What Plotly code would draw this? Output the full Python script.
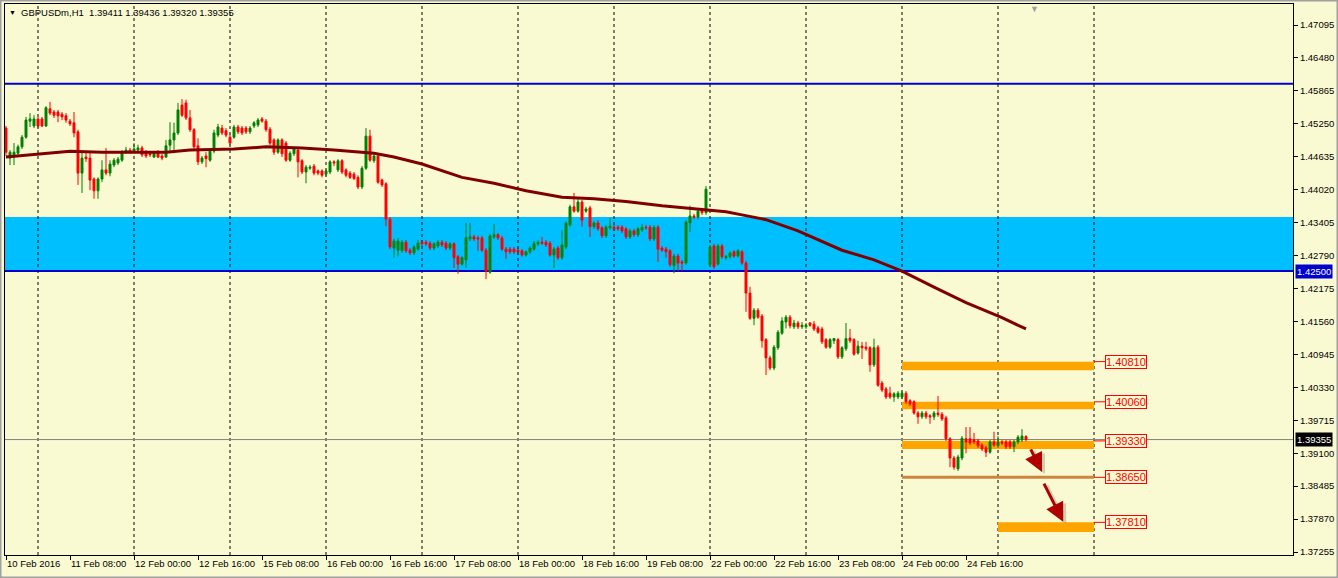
import plotly.graph_objects as go

# ---------------- data ----------------
opens = [1.4517, 1.4461, 1.4463, 1.4470, 1.4482, 1.4500, 1.4530, 1.4521, 1.4534, 1.4534,
         1.4521, 1.4553, 1.4547, 1.4547, 1.4543, 1.4540, 1.4530, 1.4527, 1.4510, 1.4433,
         1.4463, 1.4461, 1.4422, 1.4400, 1.4422, 1.4439, 1.4433, 1.4448, 1.4452, 1.4457,
         1.4472, 1.4476, 1.4474, 1.4476, 1.4480, 1.4472, 1.4470, 1.4463, 1.4472, 1.4465,
         1.4463, 1.4485, 1.4495, 1.4508, 1.4560, 1.4564, 1.4536, 1.4514, 1.4484, 1.4454,
         1.4465, 1.4457, 1.4474, 1.4504, 1.4517, 1.4512, 1.4500, 1.4500, 1.4519, 1.4517,
         1.4517, 1.4510, 1.4521, 1.4523, 1.4534, 1.4530, 1.4515, 1.4495, 1.4472, 1.4495,
         1.4489, 1.4457, 1.4469, 1.4476, 1.4456, 1.4435, 1.4442, 1.4446, 1.4437, 1.4437,
         1.4431, 1.4435, 1.4454, 1.4439, 1.4456, 1.4439, 1.4433, 1.4431, 1.4425, 1.4407,
         1.4442, 1.4502, 1.4456, 1.4465, 1.4420, 1.4413, 1.4347, 1.4293, 1.4289, 1.4288,
         1.4304, 1.4289, 1.4284, 1.4291, 1.4304, 1.4304, 1.4302, 1.4293, 1.4297, 1.4304,
         1.4302, 1.4293, 1.4301, 1.4277, 1.4263, 1.4271, 1.4310, 1.4314, 1.4312, 1.4312,
         1.4289, 1.4248, 1.4314, 1.4318, 1.4312, 1.4291, 1.4291, 1.4291, 1.4289, 1.4288,
         1.4280, 1.4286, 1.4291, 1.4301, 1.4304, 1.4304, 1.4302, 1.4280, 1.4293, 1.4275,
         1.4295, 1.4336, 1.4370, 1.4362, 1.4379, 1.4362, 1.4368, 1.4333, 1.4340, 1.4331,
         1.4316, 1.4331, 1.4332, 1.4332, 1.4332, 1.4329, 1.4314, 1.4325, 1.4318, 1.4327,
         1.4332, 1.4332, 1.4310, 1.4332, 1.4293, 1.4291, 1.4288, 1.4260, 1.4278, 1.4267,
         1.4265, 1.4340, 1.4353, 1.4351, 1.4364, 1.4359, 1.4262, 1.4297, 1.4263, 1.4297,
         1.4275, 1.4277, 1.4286, 1.4278, 1.4286, 1.4265, 1.4209, 1.4162, 1.4177, 1.4166,
         1.4122, 1.4088, 1.4069, 1.4107, 1.4134, 1.4155, 1.4164, 1.4146, 1.4153, 1.4146,
         1.4146, 1.4153, 1.4151, 1.4144, 1.4142, 1.4122, 1.4108, 1.4120, 1.4122, 1.4090,
         1.4105, 1.4125, 1.4122, 1.4097, 1.4110, 1.4108, 1.4107, 1.4075, 1.4108, 1.4041,
         1.4030, 1.4022, 1.4015, 1.4015, 1.4015, 1.4022, 1.4008, 1.4006, 1.3985, 1.3978,
         1.3985, 1.3980, 1.3978, 1.3985, 1.3983, 1.3976, 1.3937, 1.3901, 1.3881, 1.3901,
         1.3937, 1.3937, 1.3935, 1.3933, 1.3925, 1.3920, 1.3912, 1.3931, 1.3924, 1.3931,
         1.3931, 1.3931, 1.3922, 1.3931, 1.3935, 1.39411]

highs = [1.4521, 1.4476, 1.4489, 1.4486, 1.4504, 1.4538, 1.4545, 1.4541, 1.4538, 1.4538,
         1.4558, 1.4566, 1.4551, 1.4551, 1.4547, 1.4545, 1.4534, 1.4547, 1.4514, 1.4472,
         1.4472, 1.4472, 1.4425, 1.4425, 1.4457, 1.4480, 1.4457, 1.4461, 1.4463, 1.4476,
         1.4482, 1.4480, 1.4489, 1.4486, 1.4484, 1.4476, 1.4474, 1.4474, 1.4476, 1.4469,
         1.4495, 1.4528, 1.4527, 1.4564, 1.4571, 1.4570, 1.4551, 1.4517, 1.4498, 1.4465,
         1.4472, 1.4478, 1.4514, 1.4525, 1.4523, 1.4517, 1.4506, 1.4523, 1.4523, 1.4521,
         1.4521, 1.4521, 1.4530, 1.4536, 1.4538, 1.4534, 1.4519, 1.4498, 1.4498, 1.4498,
         1.4493, 1.4474, 1.4482, 1.4480, 1.4459, 1.4448, 1.4448, 1.4450, 1.4440, 1.4440,
         1.4440, 1.4457, 1.4457, 1.4459, 1.4459, 1.4442, 1.4437, 1.4435, 1.4429, 1.4446,
         1.4517, 1.4514, 1.4469, 1.4469, 1.4423, 1.4416, 1.4351, 1.4310, 1.4312, 1.4308,
         1.4308, 1.4293, 1.4299, 1.4308, 1.4308, 1.4308, 1.4306, 1.4304, 1.4308, 1.4308,
         1.4306, 1.4304, 1.4304, 1.4280, 1.4278, 1.4340, 1.4340, 1.4318, 1.4316, 1.4316,
         1.4293, 1.4319, 1.4338, 1.4321, 1.4316, 1.4295, 1.4295, 1.4295, 1.4293, 1.4291,
         1.4289, 1.4297, 1.4306, 1.4308, 1.4314, 1.4308, 1.4306, 1.4295, 1.4297, 1.4327,
         1.4343, 1.4374, 1.4396, 1.4385, 1.4383, 1.4370, 1.4372, 1.4343, 1.4345, 1.4334,
         1.4336, 1.4349, 1.4336, 1.4336, 1.4336, 1.4332, 1.4329, 1.4329, 1.4332, 1.4338,
         1.4336, 1.4336, 1.4336, 1.4336, 1.4297, 1.4295, 1.4291, 1.4282, 1.4282, 1.4271,
         1.4345, 1.4372, 1.4357, 1.4366, 1.4368, 1.4409, 1.4299, 1.4301, 1.4301, 1.4301,
         1.4280, 1.4288, 1.4289, 1.4291, 1.4289, 1.4269, 1.4221, 1.4181, 1.4181, 1.4170,
         1.4125, 1.4092, 1.4112, 1.4140, 1.4164, 1.4168, 1.4168, 1.4159, 1.4157, 1.4155,
         1.4153, 1.4155, 1.4157, 1.4148, 1.4146, 1.4125, 1.4125, 1.4125, 1.4125, 1.4110,
         1.4153, 1.4142, 1.4125, 1.4120, 1.4118, 1.4118, 1.4110, 1.4124, 1.4112, 1.4045,
         1.4034, 1.4034, 1.4024, 1.4026, 1.4026, 1.4026, 1.4011, 1.4009, 1.3989, 1.3989,
         1.3989, 1.3983, 1.3989, 1.4017, 1.3987, 1.3980, 1.3940, 1.3905, 1.3907, 1.3942,
         1.3959, 1.3959, 1.3948, 1.3937, 1.3929, 1.3924, 1.3935, 1.3950, 1.3942, 1.3935,
         1.3935, 1.3935, 1.3935, 1.3944, 1.3955, 1.39436]

lows = [1.4465, 1.4448, 1.4448, 1.4467, 1.4478, 1.4497, 1.4519, 1.4517, 1.4517, 1.4519,
        1.4519, 1.4541, 1.4536, 1.4528, 1.4532, 1.4527, 1.4521, 1.4500, 1.4411, 1.4396,
        1.4454, 1.4401, 1.4385, 1.4385, 1.4416, 1.4429, 1.4427, 1.4444, 1.4448, 1.4454,
        1.4469, 1.4470, 1.4470, 1.4472, 1.4463, 1.4461, 1.4463, 1.4461, 1.4461, 1.4457,
        1.4461, 1.4470, 1.4470, 1.4504, 1.4538, 1.4532, 1.4510, 1.4476, 1.4448, 1.4450,
        1.4444, 1.4454, 1.4470, 1.4500, 1.4504, 1.4500, 1.4485, 1.4497, 1.4506, 1.4504,
        1.4506, 1.4506, 1.4517, 1.4519, 1.4527, 1.4510, 1.4484, 1.4467, 1.4469, 1.4463,
        1.4454, 1.4454, 1.4465, 1.4425, 1.4431, 1.4414, 1.4439, 1.4429, 1.4429, 1.4425,
        1.4427, 1.4431, 1.4446, 1.4435, 1.4431, 1.4425, 1.4422, 1.4420, 1.4403, 1.4403,
        1.4439, 1.4454, 1.4452, 1.4413, 1.4407, 1.4334, 1.4291, 1.4275, 1.4278, 1.4284,
        1.4284, 1.4280, 1.4280, 1.4288, 1.4297, 1.4297, 1.4289, 1.4289, 1.4293, 1.4295,
        1.4289, 1.4289, 1.4256, 1.4245, 1.4260, 1.4256, 1.4306, 1.4306, 1.4288, 1.4286,
        1.4235, 1.4245, 1.4310, 1.4308, 1.4288, 1.4273, 1.4282, 1.4282, 1.4282, 1.4277,
        1.4277, 1.4282, 1.4288, 1.4297, 1.4299, 1.4295, 1.4277, 1.4256, 1.4271, 1.4271,
        1.4291, 1.4333, 1.4359, 1.4359, 1.4333, 1.4359, 1.4314, 1.4329, 1.4325, 1.4312,
        1.4312, 1.4327, 1.4325, 1.4325, 1.4321, 1.4310, 1.4310, 1.4314, 1.4314, 1.4323,
        1.4327, 1.4306, 1.4306, 1.4267, 1.4286, 1.4275, 1.4258, 1.4246, 1.4250, 1.4250,
        1.4262, 1.4323, 1.4347, 1.4347, 1.4355, 1.4355, 1.4258, 1.4254, 1.4260, 1.4273,
        1.4271, 1.4273, 1.4275, 1.4275, 1.4262, 1.4174, 1.4159, 1.4149, 1.4161, 1.4107,
        1.4056, 1.4065, 1.4065, 1.4103, 1.4131, 1.4143, 1.4143, 1.4142, 1.4142, 1.4142,
        1.4142, 1.4146, 1.4138, 1.4133, 1.4114, 1.4105, 1.4105, 1.4114, 1.4086, 1.4086,
        1.4101, 1.4116, 1.4092, 1.4094, 1.4086, 1.4101, 1.4062, 1.4071, 1.4034, 1.4024,
        1.4011, 1.4011, 1.4006, 1.4011, 1.4011, 1.4002, 1.3998, 1.3982, 1.3965, 1.3974,
        1.3974, 1.3965, 1.3972, 1.3978, 1.3970, 1.3933, 1.3884, 1.3879, 1.3877, 1.3897,
        1.3910, 1.3925, 1.3927, 1.3920, 1.3914, 1.3903, 1.3909, 1.3922, 1.3920, 1.3925,
        1.3918, 1.3918, 1.3912, 1.3927, 1.3931, 1.39320]

closes = [1.4472, 1.4472, 1.4472, 1.4482, 1.4500, 1.4532, 1.4534, 1.4534, 1.4521, 1.4521,
          1.4555, 1.4545, 1.4541, 1.4540, 1.4538, 1.4532, 1.4525, 1.4508, 1.4433, 1.4461,
          1.4460, 1.4420, 1.4400, 1.4422, 1.4439, 1.4433, 1.4450, 1.4457, 1.4459, 1.4472,
          1.4476, 1.4472, 1.4478, 1.4480, 1.4467, 1.4465, 1.4467, 1.4470, 1.4463, 1.4461,
          1.4484, 1.4495, 1.4508, 1.4551, 1.4541, 1.4536, 1.4514, 1.4482, 1.4454, 1.4461,
          1.4460, 1.4474, 1.4508, 1.4519, 1.4508, 1.4504, 1.4489, 1.4519, 1.4510, 1.4508,
          1.4510, 1.4517, 1.4527, 1.4532, 1.4530, 1.4514, 1.4489, 1.4472, 1.4495, 1.4469,
          1.4457, 1.4470, 1.4478, 1.4454, 1.4435, 1.4444, 1.4444, 1.4433, 1.4433, 1.4429,
          1.4437, 1.4454, 1.4452, 1.4456, 1.4435, 1.4429, 1.4425, 1.4423, 1.4407, 1.4442,
          1.4502, 1.4457, 1.4465, 1.4416, 1.4411, 1.4347, 1.4295, 1.4306, 1.4306, 1.4304,
          1.4288, 1.4284, 1.4295, 1.4302, 1.4301, 1.4301, 1.4293, 1.4301, 1.4304, 1.4299,
          1.4293, 1.4301, 1.4275, 1.4263, 1.4275, 1.4312, 1.4314, 1.4310, 1.4310, 1.4289,
          1.4250, 1.4316, 1.4318, 1.4312, 1.4291, 1.4286, 1.4286, 1.4286, 1.4286, 1.4280,
          1.4286, 1.4293, 1.4302, 1.4304, 1.4302, 1.4299, 1.4280, 1.4291, 1.4275, 1.4299,
          1.4340, 1.4370, 1.4362, 1.4379, 1.4345, 1.4366, 1.4333, 1.4340, 1.4329, 1.4316,
          1.4332, 1.4334, 1.4329, 1.4329, 1.4325, 1.4314, 1.4325, 1.4318, 1.4329, 1.4332,
          1.4331, 1.4310, 1.4332, 1.4291, 1.4289, 1.4286, 1.4262, 1.4278, 1.4265, 1.4265,
          1.4342, 1.4353, 1.4351, 1.4362, 1.4359, 1.4403, 1.4295, 1.4258, 1.4297, 1.4277,
          1.4277, 1.4284, 1.4278, 1.4288, 1.4265, 1.4209, 1.4162, 1.4177, 1.4164, 1.4120,
          1.4088, 1.4069, 1.4108, 1.4136, 1.4157, 1.4164, 1.4148, 1.4153, 1.4146, 1.4149,
          1.4149, 1.4149, 1.4142, 1.4136, 1.4118, 1.4108, 1.4122, 1.4124, 1.4090, 1.4107,
          1.4124, 1.4120, 1.4095, 1.4110, 1.4107, 1.4105, 1.4075, 1.4107, 1.4037, 1.4028,
          1.4015, 1.4015, 1.4021, 1.4022, 1.4022, 1.4006, 1.4002, 1.3985, 1.3978, 1.3985,
          1.3978, 1.3978, 1.3985, 1.3982, 1.3974, 1.3937, 1.3901, 1.3884, 1.3903, 1.3938,
          1.3931, 1.3929, 1.3931, 1.3924, 1.3918, 1.3912, 1.3931, 1.3925, 1.3931, 1.3929,
          1.3922, 1.3922, 1.3931, 1.3940, 1.3942, 1.39355]

bar_index = list(range(len(closes)))

# moving average read at sampled bars
ma_idx = [0, 9, 16, 24, 32, 40, 46, 57, 65, 74, 82, 89, 92, 97, 104, 114, 122, 130,
          139, 147, 155, 164, 172, 180, 184, 190, 198, 209, 217, 224, 232, 240, 249, 255]
ma_val = [1.4463, 1.4469, 1.4474, 1.4472, 1.4472, 1.4472, 1.4476, 1.4478, 1.4482, 1.4480,
          1.4476, 1.4472, 1.4470, 1.4463, 1.4450, 1.4425, 1.4414, 1.4400, 1.4388, 1.4385,
          1.4380, 1.4372, 1.4366, 1.4361, 1.4355, 1.4346, 1.4325, 1.4289, 1.4271, 1.4250,
          1.4220, 1.4191, 1.4163, 1.4142]

time_tick_idx = [0, 16, 32, 48, 64, 80, 96, 112, 128, 144, 160, 176, 192, 208, 224, 240]
time_tick_labels = ["10 Feb 2016", "11 Feb 08:00", "12 Feb 00:00", "12 Feb 16:00",
                    "15 Feb 08:00", "16 Feb 00:00", "16 Feb 16:00", "17 Feb 08:00",
                    "18 Feb 00:00", "18 Feb 16:00", "19 Feb 08:00", "22 Feb 00:00",
                    "22 Feb 16:00", "23 Feb 08:00", "24 Feb 00:00", "24 Feb 16:00"]
day_start_idx = [8, 32, 56, 80, 104, 128, 152, 176, 200, 224, 248, 272]

price_ticks = [1.47095, 1.46480, 1.45865, 1.45250, 1.44635, 1.44020, 1.43405, 1.42790,
               1.42175, 1.41560, 1.40945, 1.40330, 1.39715, 1.39100, 1.38485, 1.37870, 1.37255]

resistance_line = 1.46000
support_line = 1.42500
zone_band = [1.42500, 1.43510]
bid_price = 1.39355

target_levels = [1.40810, 1.40060, 1.39330, 1.38650, 1.37810]
zone_top = [1.40810, 1.40060, 1.39330, 1.37810]
zone_bottom = [1.40650, 1.39920, 1.39180, 1.37630]
zone_start = [224, 224, 224, 248]
zone_end = [272, 272, 272, 272]
line_level = 1.38650
line_span = [224, 272]

arrow_tails = [(256.0, 1.3920), (259.3, 1.3856)]
arrow_heads = [(259.0, 1.3875), (264.3, 1.3782)]

title_text = "GBPUSDm,H1\u00a0 1.39411 1.39436 1.39320 1.39355"

# ---------------- styling ----------------
BG = "#FAFAD2"
FONT = "Liberation Sans, Arial, sans-serif"
X_RANGE = [-0.25, 321.75]
Y_RANGE = [1.37200, 1.47487]

fig = go.Figure()

fig.add_trace(go.Candlestick(
    x=bar_index, open=opens, high=highs, low=lows, close=closes,
    increasing=dict(line=dict(color="#008000", width=1), fillcolor="#008000"),
    decreasing=dict(line=dict(color="#FF0000", width=1), fillcolor="#FF0000"),
    whiskerwidth=0, showlegend=False, hoverinfo="skip"))

fig.add_trace(go.Scatter(
    x=ma_idx, y=ma_val, mode="lines", line=dict(color="#800000", width=3),
    showlegend=False, hoverinfo="skip"))

shapes = []
shapes.append(dict(type="rect", xref="paper", yref="y", x0=0, x1=1,
                   y0=zone_band[0], y1=zone_band[1], fillcolor="#00BFFF",
                   line=dict(width=0), layer="below"))
for d in day_start_idx:
    shapes.append(dict(type="line", xref="x", yref="paper", x0=d, x1=d, y0=0, y1=1,
                       line=dict(color="black", width=1, dash="3px,3px"), layer="below"))
shapes.append(dict(type="line", xref="paper", yref="y", x0=0, x1=1,
                   y0=resistance_line, y1=resistance_line,
                   line=dict(color="#0000CD", width=2), layer="below"))
shapes.append(dict(type="line", xref="paper", yref="y", x0=0, x1=1,
                   y0=support_line, y1=support_line,
                   line=dict(color="#0000CD", width=2), layer="below"))
shapes.append(dict(type="line", xref="paper", yref="y", x0=0, x1=1,
                   y0=bid_price, y1=bid_price,
                   line=dict(color="#808080", width=1), layer="below"))
for t, b, s, e in zip(zone_top, zone_bottom, zone_start, zone_end):
    shapes.append(dict(type="rect", xref="x", yref="y", x0=s, x1=e, y0=b, y1=t,
                       fillcolor="#FFA500", line=dict(width=0), layer="below"))
shapes.append(dict(type="line", xref="x", yref="y", x0=line_span[0], x1=line_span[1],
                   y0=line_level, y1=line_level,
                   line=dict(color="#CD853F", width=3), layer="below"))
for lv in target_levels:
    shapes.append(dict(type="line", xref="x", yref="y", x0=272, x1=274.8, y0=lv, y1=lv,
                       line=dict(color="#FF0000", width=1)))
shapes.append(dict(type="rect", xref="paper", yref="paper",
                   x0=-5 / 1288, x1=1 + 45 / 1288, y0=-23 / 551, y1=1 + 4 / 551,
                   line=dict(color="#A0A0A0", width=3), fillcolor="rgba(0,0,0,0)"))

annotations = []
for lv in target_levels:
    annotations.append(dict(x=274.8, y=lv, xref="x", yref="y", xanchor="left",
                            yanchor="middle", text=f"{lv:.5f}", showarrow=False,
                            font=dict(family=FONT, size=11, color="#FF0000"),
                            bgcolor=BG, bordercolor="#FF0000", borderwidth=1, borderpad=0))
annotations.append(dict(x=1, y=support_line, xref="paper", yref="y", xanchor="left",
                        yanchor="middle", xshift=2, text=f"{support_line:.5f}",
                        showarrow=False, bgcolor="#0000CD",
                        font=dict(family=FONT, size=9.5, color="white"), borderpad=1))
annotations.append(dict(x=1, y=bid_price, xref="paper", yref="y", xanchor="left",
                        yanchor="middle", xshift=2, text=f"{bid_price:.5f}",
                        showarrow=False, bgcolor="black",
                        font=dict(family=FONT, size=9.5, color="white"), borderpad=1))
for (tx, ty), (hx, hy) in zip(arrow_tails, arrow_heads):
    annotations.append(dict(x=hx, y=hy, ax=tx, ay=ty, xref="x", yref="y",
                            axref="x", ayref="y", showarrow=True, text="",
                            arrowhead=2, arrowsize=1.25, arrowwidth=3,
                            arrowcolor="rgba(80,80,80,0.25)", xshift=3, yshift=-2))
    annotations.append(dict(x=hx, y=hy, ax=tx, ay=ty, xref="x", yref="y",
                            axref="x", ayref="y", showarrow=True, text="",
                            arrowhead=2, arrowsize=1.25, arrowwidth=3,
                            arrowcolor="#B00000"))
annotations.append(dict(x=0, y=1, xref="paper", yref="paper", xanchor="left",
                        yanchor="top", xshift=2, yshift=-3, text="\u25BC",
                        showarrow=False, font=dict(family=FONT, size=7, color="black")))
annotations.append(dict(x=0, y=1, xref="paper", yref="paper", xanchor="left",
                        yanchor="top", xshift=14, yshift=-1, text=title_text,
                        showarrow=False, font=dict(family=FONT, size=9.5, color="black")))
annotations.append(dict(x=257, y=1, xref="x", yref="paper", xanchor="center",
                        yanchor="top", yshift=2, text="\u25BC", showarrow=False,
                        font=dict(family=FONT, size=9, color="#A0A0A0")))

fig.update_layout(
    width=1338, height=578,
    margin=dict(l=5, r=45, t=4, b=23, autoexpand=False),
    paper_bgcolor=BG, plot_bgcolor=BG,
    showlegend=False,
    shapes=shapes, annotations=annotations,
    xaxis=dict(range=X_RANGE, showgrid=False, zeroline=False, showline=True, mirror=True,
               linecolor="black", linewidth=1, ticks="outside", ticklen=4,
               tickcolor="black", tickvals=time_tick_idx, ticktext=time_tick_labels,
               ticklabelposition="outside right", tickangle=0, automargin=False,
               tickfont=dict(family=FONT, size=9.5, color="black"),
               rangeslider=dict(visible=False), fixedrange=True),
    yaxis=dict(range=Y_RANGE, side="right", showgrid=False, zeroline=False, showline=True,
               mirror=True, linecolor="black", linewidth=1, ticks="outside", ticklen=4,
               tickcolor="black", tickvals=price_ticks, automargin=False,
               ticktext=[f"{v:.5f}" for v in price_ticks],
               tickfont=dict(family=FONT, size=9.5, color="black"), fixedrange=True),
)

fig.write_html("out.html", config={"displayModeBar": False},
               post_script="document.body.style.margin='0';document.body.style.overflow='hidden';")
